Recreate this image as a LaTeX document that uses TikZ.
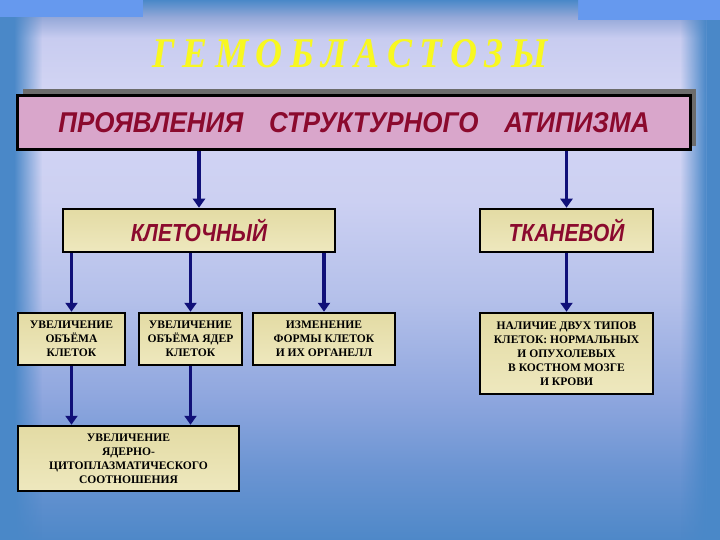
\documentclass[tikz,border=0pt]{standalone}
\usepackage{fontspec}
\usepackage{graphicx}
\setmainfont{Liberation Serif}
\newfontfamily\headfont{Liberation Sans}
\usetikzlibrary{arrows.meta,fadings}
\definecolor{bgblue}{HTML}{4A88C8}
\definecolor{cornerblue}{HTML}{6699EE}
\definecolor{p0}{HTML}{4E88C8}
\definecolor{p1}{HTML}{6A94D2}
\definecolor{p2}{HTML}{8EA6DE}
\definecolor{p3}{HTML}{B4C0EA}
\definecolor{p4}{HTML}{CCD0F2}
\definecolor{p5}{HTML}{D4D6F4}
\definecolor{p6}{HTML}{C8CCF0}
\definecolor{p7}{HTML}{94A8D8}
\definecolor{navy}{HTML}{101078}
\definecolor{headred}{HTML}{8B0A2E}
\definecolor{titleyellow}{HTML}{F8F820}
\definecolor{pinkedge}{HTML}{D9A6CB}
\definecolor{pinkmid}{HTML}{F2D0E6}
\definecolor{creamedge}{HTML}{E3DBA4}
\definecolor{creammid}{HTML}{FAF7D6}
\definecolor{creambot}{HTML}{EEE8BE}
\pgfdeclareverticalshading{panel}{100bp}{color(0bp)=(p0); color(25bp)=(p0); color(31.5bp)=(p1); color(38.5bp)=(p2); color(48bp)=(p3); color(57.5bp)=(p4); color(67bp)=(p5); color(73bp)=(p6); color(75bp)=(p7); color(100bp)=(p7)}
\tikzfading[name=fadeRight, left color=transparent!0, right color=transparent!100]
\tikzfading[name=fadeLeft, left color=transparent!100, right color=transparent!0]
\tikzset{
  mainbox/.style={draw=black, line width=3bp, top color=pinkedge, middle color=pinkmid, bottom color=pinkedge, minimum width=672bp, minimum height=54bp, inner sep=0pt},
  headbox/.style={draw=black, line width=2.5bp, top color=creamedge, middle color=creammid, bottom color=creambot, minimum height=43bp, inner sep=0pt, text=headred, font=\headfont\bfseries\itshape\fontsize{21}{21}\selectfont},
  smallbox/.style={draw=black, line width=2.5bp, top color=creamedge, middle color=creammid, bottom color=creambot, inner sep=0pt, align=center, text=black, font=\bfseries\fontsize{11.6}{14}\selectfont},
  arr/.style={draw=navy, line width=3.8bp, -{Triangle[width=12bp,length=9bp]}}
}
\begin{document}
\begin{tikzpicture}[x=1bp,y=-1bp]
\useasboundingbox (0,0) rectangle (720,540);
% background
\fill[bgblue] (0,0) rectangle (720,540);
\shade[shading=panel] (14,17) rectangle (706,540);
\fill[bgblue, path fading=fadeRight] (14,17) rectangle (42,540);
\fill[bgblue, path fading=fadeLeft] (680,17) rectangle (706,540);
\fill[cornerblue] (0,0) rectangle (143,17);
\fill[cornerblue] (578,0) rectangle (720,20);
\shade[top color=bgblue, bottom color=p7] (143,0) rectangle (578,17);
% title
\node (title) at (350,54) {\color{titleyellow}\resizebox{395bp}{28bp}{\bfseries\itshape Г\hspace{.2em}Е\hspace{.2em}М\hspace{.2em}О\hspace{.2em}Б\hspace{.2em}Л\hspace{.2em}А\hspace{.2em}С\hspace{.2em}Т\hspace{.2em}О\hspace{.2em}З\hspace{.2em}Ы}};
% main box
\fill[gray!85!black] (23,89) rectangle (696,146);
\node[mainbox] (main) at (354,123) {\color{headred}\resizebox{591bp}{20bp}{\headfont\bfseries\itshape ПРОЯВЛЕНИЯ\hspace{1em}СТРУКТУРНОГО\hspace{1em}АТИПИЗМА}};
% level 2
\node[headbox, minimum width=272bp] (klet) at (199,230.5) {\scalebox{1}[1.18]{КЛЕТОЧНЫЙ}};
\node[headbox, minimum width=173bp] (tkan) at (566.5,230.5) {\scalebox{1}[1.18]{ТКАНЕВОЙ}};
% level 3
\node[smallbox, minimum width=107bp, minimum height=52bp] (b1) at (71.5,339) {УВЕЛИЧЕНИЕ\\ОБЪЁМА\\КЛЕТОК};
\node[smallbox, minimum width=103bp, minimum height=52bp] (b2) at (190.5,339) {УВЕЛИЧЕНИЕ\\ОБЪЁМА ЯДЕР\\КЛЕТОК};
\node[smallbox, minimum width=142bp, minimum height=52bp] (b3) at (324,339) {ИЗМЕНЕНИЕ\\ФОРМЫ КЛЕТОК\\И ИХ ОРГАНЕЛЛ};
\node[smallbox, minimum width=173bp, minimum height=81bp] (b4) at (566.5,353.5) {НАЛИЧИЕ ДВУХ ТИПОВ\\КЛЕТОК: НОРМАЛЬНЫХ\\И ОПУХОЛЕВЫХ\\В КОСТНОМ МОЗГЕ\\И КРОВИ};
\node[smallbox, minimum width=221bp, minimum height=65bp] (bot) at (128.5,458.5) {УВЕЛИЧЕНИЕ\\ЯДЕРНО-\\ЦИТОПЛАЗМАТИЧЕСКОГО\\СООТНОШЕНИЯ};
% arrows
\draw[arr] (main.south -| klet) -- (klet.north);
\draw[arr] (main.south -| tkan) -- (tkan.north);
\draw[arr] (klet.south -| b1) -- (b1.north);
\draw[arr] (klet.south -| b2) -- (b2.north);
\draw[arr] (klet.south -| b3) -- (b3.north);
\draw[arr] (tkan.south) -- (b4.north);
\draw[arr] (b1.south) -- (b1.south |- bot.north);
\draw[arr] (b2.south) -- (b2.south |- bot.north);
\end{tikzpicture}
\end{document}
